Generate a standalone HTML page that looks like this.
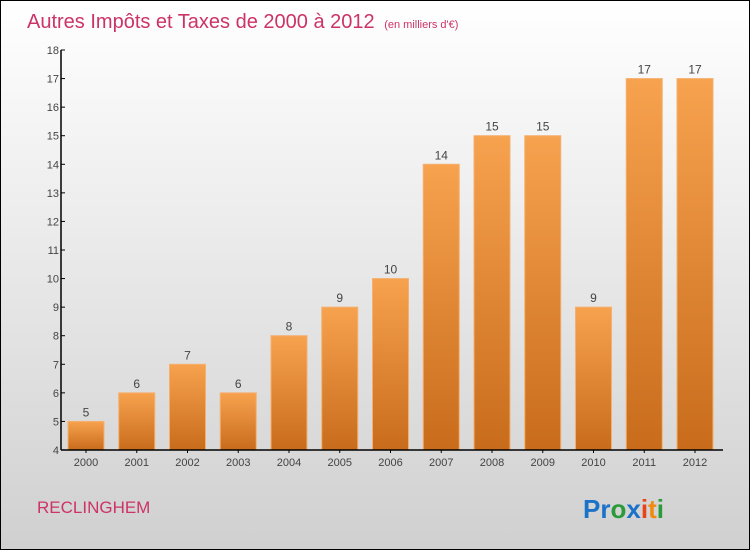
<!DOCTYPE html>
<html><head><meta charset="utf-8"><style>
body{margin:0;width:750px;height:550px;overflow:hidden}
#c{position:relative;width:748px;height:548px;border:1px solid #000;background:linear-gradient(#ffffff,#d0d0d0);font-family:"Liberation Sans",sans-serif}
</style></head><body>
<div id="c">
<svg id="s" width="748" height="548">
<defs><linearGradient id="g" x1="0" y1="0" x2="0" y2="1"><stop offset="0" stop-color="#f7a24e"/><stop offset="1" stop-color="#c86c1c"/></linearGradient></defs>
<text x="26" y="27" font-size="20" fill="#cc3366">Autres Impôts et Taxes de 2000 à 2012 <tspan font-size="11" dx="4">(en milliers d'€)</tspan></text>
<text x="36" y="512" font-size="17" fill="#cc3366">RECLINGHEM</text>
<text x="582" y="517" font-size="26" font-weight="bold"><tspan fill="#1a73c8">Pr</tspan><tspan fill="#2a9a3a">o</tspan><tspan fill="#1a73c8">x</tspan><tspan fill="#e8441a">i</tspan><tspan fill="#f08a10">t</tspan><tspan fill="#2a9a3a">i</tspan></text>
<g id="plot"></g>
</svg></div>
<script>
const categories=["2000","2001","2002","2003","2004","2005","2006","2007","2008","2009","2010","2011","2012"];
const values=[5,6,7,6,8,9,10,14,15,15,9,17,17];
const yTicks=[4,5,6,7,8,9,10,11,12,13,14,15,16,17,18];
const ns="http://www.w3.org/2000/svg";
const p=document.getElementById("plot");
const y0=449,yTop=49,vMin=4,vMax=18,x0=60,step=50.75,first=85,bw=36;
const Y=v=>y0-(v-vMin)*(y0-yTop)/(vMax-vMin);
const X=i=>first+i*step;
function mk(t,a){const e=document.createElementNS(ns,t);for(const k in a)e.setAttribute(k,a[k]);p.appendChild(e);return e;}
categories.forEach((c,i)=>{
 const r=mk("rect",{x:X(i)-bw/2,y:Y(values[i]),width:bw,height:y0-Y(values[i]),fill:"url(#g)",stroke:"#f4b070","stroke-width":1});
 
 
 const t=mk("text",{x:X(i),y:Y(values[i])-5,"text-anchor":"middle","font-size":12,fill:"#444"});t.textContent=values[i];
 
 
 const l=mk("text",{x:X(i),y:y0+16,"text-anchor":"middle","font-size":11,fill:"#444"});l.textContent=c;
 
 
 mk("line",{x1:X(i),x2:X(i),y1:y0,y2:y0+3,stroke:"#000"});
});
yTicks.forEach(v=>{
 mk("line",{x1:x0,x2:x0+4,y1:Y(v),y2:Y(v),stroke:"#000"});
 const t=mk("text",{x:x0-2,y:Y(v)+4,"text-anchor":"end","font-size":11,fill:"#444"});t.textContent=v;
 
 
});
const ya=mk("line",{x1:x0,x2:x0,y1:yTop,y2:y0,stroke:"#000","stroke-width":1.5});


const xa=mk("line",{x1:x0,x2:722,y1:y0,y2:y0,stroke:"#000","stroke-width":1.5});


</script>
</body></html>
